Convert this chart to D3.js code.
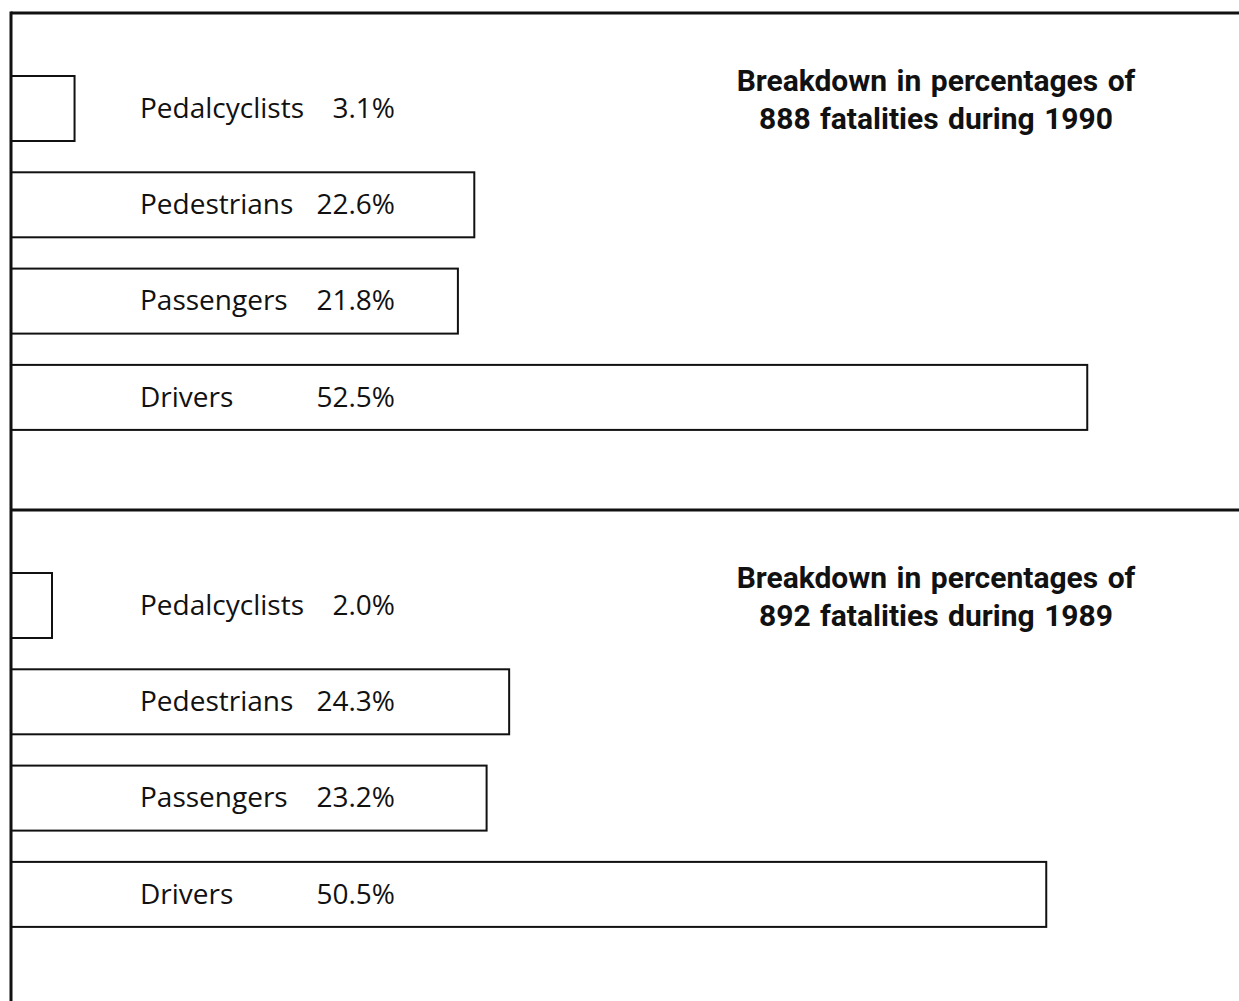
<!DOCTYPE html>
<html>
<head>
<meta charset="utf-8">
<script src="https://cdn.jsdelivr.net/npm/d3@7"></script>
<style>
  html, body { margin: 0; padding: 0; background: #fff; }
  svg { display: block; }
  .frame { stroke: #111; stroke-width: 3; fill: none; }
  .bar { fill: #fff; stroke: #111; stroke-width: 2; }
  .cat, .val { font-family: "Open Sans", Lato, sans-serif; font-size: 28px; fill: #111; }
  .title { font-family: Roboto, "Liberation Sans", sans-serif; font-weight: 700; font-size: 30px; fill: #111; word-spacing: 2px; }
</style>
</head>
<body>
<div id="chart"></div>
<script>
const W = 1239;
const H = 1001;

const CATEGORIES = ["Pedalcyclists", "Pedestrians", "Passengers", "Drivers"];
const VALUES_1990 = [3.1, 22.6, 21.8, 52.5];
const VALUES_1989 = [2.0, 24.3, 23.2, 50.5];
const TITLES_1990 = ["Breakdown in percentages of", "888 fatalities during 1990"];
const TITLES_1989 = ["Breakdown in percentages of", "892 fatalities during 1989"];

const PANELS = [
  { values: VALUES_1990, titles: TITLES_1990 },
  { values: VALUES_1989, titles: TITLES_1989 },
];

const FRAME_X = 11;
const FRAME_TOP = 13;
const PANEL_H = 497;
const STEP = 96.3;

const svg = d3.select("#chart").append("svg")
  .attr("width", W).attr("height", H)
  .attr("viewBox", `0 0 ${W} ${H}`);

const x = d3.scaleLinear().domain([0, 50]).range([FRAME_X, FRAME_X + 50 * 20.5]);

PANELS.forEach((panel, pi) => {
  const top = FRAME_TOP + pi * PANEL_H;
  const r0 = top + 63 - STEP * 0.1625;
  const y = d3.scaleBand().domain(CATEGORIES)
    .range([r0, r0 + STEP * CATEGORIES.length])
    .paddingInner(0.325).paddingOuter(0.1625);

  const g = svg.append("g").attr("class", "panel");
  const rows = CATEGORIES.map((c, i) => ({ cat: c, value: panel.values[i] }));

  g.selectAll("rect.bar").data(rows).join("rect")
    .attr("class", "bar")
    .attr("x", x(0))
    .attr("y", (d) => y(d.cat))
    .attr("width", (d) => x(d.value) - x(0))
    .attr("height", y.bandwidth());

  g.selectAll("text.cat").data(rows).join("text")
    .attr("class", "cat")
    .attr("x", 140)
    .attr("y", (d) => y(d.cat) + y.bandwidth() / 2)
    .attr("dy", "0.33em")
    .text((d) => d.cat);

  g.selectAll("text.val").data(rows).join("text")
    .attr("class", "val")
    .attr("x", 395)
    .attr("text-anchor", "end")
    .attr("y", (d) => y(d.cat) + y.bandwidth() / 2)
    .attr("dy", "0.33em")
    .text((d) => d3.format(".1f")(d.value) + "%");

  g.selectAll("text.title").data(panel.titles).join("text")
    .attr("class", "title")
    .attr("x", 936)
    .attr("text-anchor", "middle")
    .attr("y", (d, i) => top + 78 + i * 38)
    .text((d) => d);

  // horizontal frame line at top of panel
  g.append("line").attr("class", "frame")
    .attr("x1", FRAME_X).attr("x2", W)
    .attr("y1", top).attr("y2", top);
});

svg.append("line").attr("class", "frame")
  .attr("x1", FRAME_X).attr("x2", FRAME_X)
  .attr("y1", FRAME_TOP - 1.5).attr("y2", H);
</script>
</body>
</html>
